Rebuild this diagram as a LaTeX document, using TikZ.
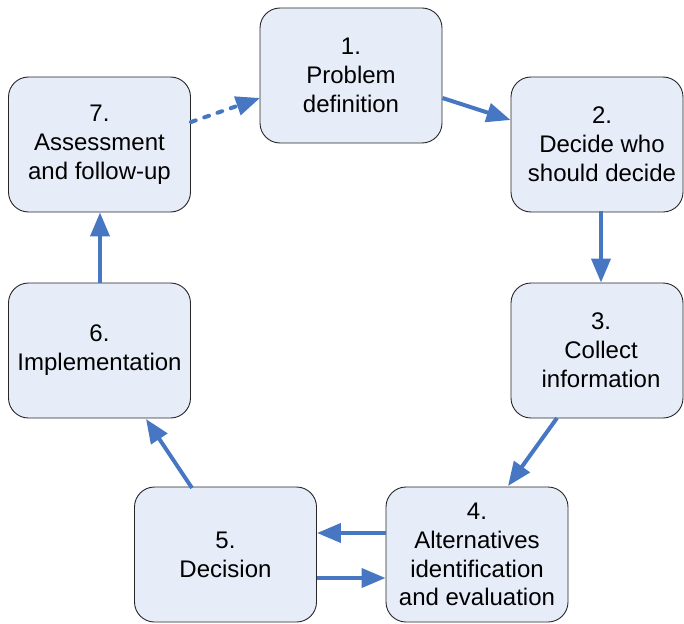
\documentclass[tikz,border=0pt]{standalone}
\usepackage{fontspec}
\setmainfont{Liberation Sans}
\usetikzlibrary{arrows.meta}
\definecolor{boxfill}{HTML}{E7EDF8}
\definecolor{arrowblue}{HTML}{4777C2}
\begin{document}
\begin{tikzpicture}[x=1pt,y=-1pt,
  stepfont/.style={align=center, font=\fontsize{24}{28.8}\selectfont},
  stepbox/.style={draw=black!85, line width=0.9pt, fill=boxfill, rounded corners=20pt,
    minimum width=182pt, minimum height=135pt, inner sep=0pt, stepfont},
  flow/.style={draw=arrowblue, line width=4pt, -{Triangle[length=24pt,width=19pt]}},
  dotflow/.style={flow, dash pattern=on 5pt off 9pt, line cap=round}]
\useasboundingbox (0,0) rectangle (684,623);
\node[stepbox] (n1) at (351,75.5) {1.\\Problem\\definition};
\node[stepbox, minimum width=172pt,
  label={[stepfont, xshift=5pt]center:{2.\\Decide who\\should decide}}] (n2) at (597,144.5) {};
\node[stepbox, minimum width=172pt,
  label={[stepfont, xshift=4pt]center:{3.\\Collect\\information}}] (n3) at (597,350.5) {};
\node[stepbox] (n4) at (477,554.5) {4.\\Alternatives\\identification\\and evaluation};
\node[stepbox] (n5) at (225.5,554.5) {5.\\Decision};
\node[stepbox] (n6) at (99.5,350.5) {6.\\Implementation};
\node[stepbox] (n7) at (99.5,144.5) {7.\\Assessment\\and follow-up};
% connectors
\coordinate (a7) at (191,122);
\coordinate (b1) at (260,98);
\draw[dotflow] (a7) -- (b1);
\draw[flow] (n1.east |- 0,98) -- (n2.west |- 0,120);
\draw[flow] (601,211) -- (n3.north -| 601,0);
\draw[flow] (557,418) -- (508,486);
\draw[flow] (n4.west |- 0,533) -- (n5.east |- 0,533);
\draw[flow] (n5.east |- 0,578) -- (n4.west |- 0,578);
\draw[flow] (192,488) -- (146,419);
\draw[flow] (n6.north -| 100,0) -- (n7.south -| 100,0);
\end{tikzpicture}
\end{document}
